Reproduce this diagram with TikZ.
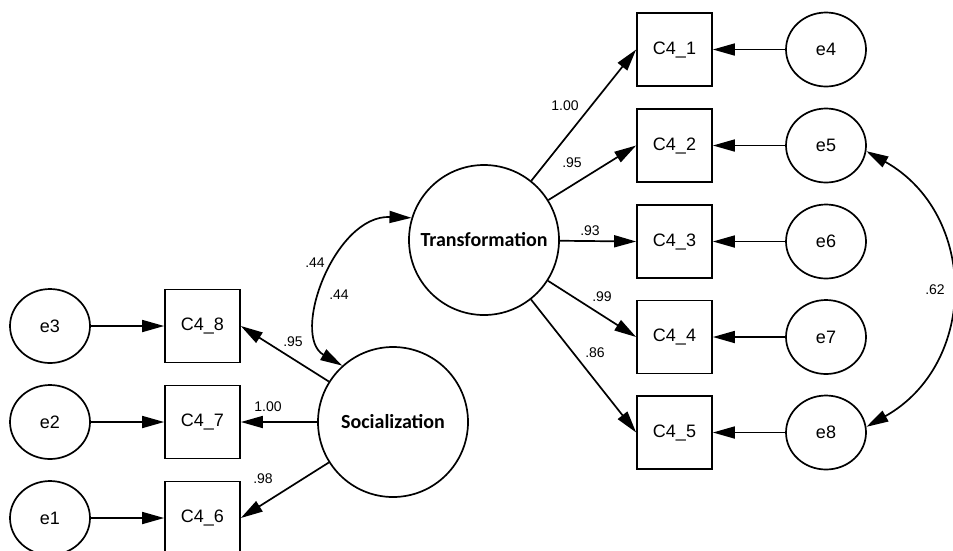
\documentclass[tikz,border=0pt]{standalone}
\usepackage{fontspec}
\setmainfont{Liberation Sans}
\newfontfamily\latentfont{Carlito}
\usetikzlibrary{arrows.meta,shapes.geometric,calc}

\begin{document}
\begin{tikzpicture}[x=1pt,y=-1pt,line width=1.7pt,
  obs/.style={draw, rectangle, minimum width=75pt, minimum height=73pt, inner sep=0pt,
              font=\fontsize{18}{18}\selectfont},
  err/.style={draw, ellipse, minimum width=80pt, minimum height=74pt, inner sep=0pt,
              font=\fontsize{18}{18}\selectfont},
  lat/.style={draw, circle, minimum size=150pt, inner sep=0pt,
              font=\latentfont\bfseries\fontsize{20}{20}\selectfont},
  link/.style={-{Triangle[length=22pt,width=12pt]}},
  cov/.style={{Triangle[length=22pt,width=12pt]}-{Triangle[length=22pt,width=12pt]}},
  coef/.style={inner sep=0pt, font=\fontsize{14}{14}\selectfont}]
\useasboundingbox (0,0) rectangle (953,550);

% latent factors
\node[lat] (T) at (484,240) {Transformation};
\node[lat] (S) at (393,422) {Socialization};

% indicators of Transformation and their errors
\node[obs] (C41) at (674.5,49.5)  {C4\_1};
\node[obs] (C42) at (674.5,145.5) {C4\_2};
\node[obs] (C43) at (674.5,241.5) {C4\_3};
\node[obs] (C44) at (674.5,337)   {C4\_4};
\node[obs] (C45) at (674.5,432.5) {C4\_5};
\node[err] (e4) at (826,49.5)  {e4};
\node[err] (e5) at (826,145.5) {e5};
\node[err] (e6) at (826,241.5) {e6};
\node[err] (e7) at (826,337)   {e7};
\node[err] (e8) at (826,432.5) {e8};

% indicators of Socialization and their errors
\node[obs] (C48) at (202.5,326) {C4\_8};
\node[obs] (C47) at (202.5,422) {C4\_7};
\node[obs] (C46) at (202.5,518) {C4\_6};
\node[err] (e3) at (50,326) {e3};
\node[err] (e2) at (50,422) {e2};
\node[err] (e1) at (50,518) {e1};

% loadings
\draw[link] (T) -- (C41.west);
\draw[link] (T) -- (C42.west);
\draw[link] (T) -- (C43.west);
\draw[link] (T) -- (C44.west);
\draw[link] (T) -- (C45.west);
\draw[link] (S) -- (C48.east);
\draw[link] (S) -- (C47.east);
\draw[link] (S) -- (C46.east);

% error terms
\draw[link] (e4) -- (C41);
\draw[link] (e5) -- (C42);
\draw[link] (e6) -- (C43);
\draw[link] (e7) -- (C44);
\draw[link] (e8) -- (C45);
\draw[link] (e3) -- (C48);
\draw[link] (e2) -- (C47);
\draw[link] (e1) -- (C46);

% covariances
\draw[cov] (T.163) .. controls ($(T.163)+(-77,-3)$) and ($(S.132)+(-52,-30)$) .. (S.132);
\draw[cov] (e5.-8) .. controls ($(e5.-8)+(112,63)$) and ($(e8.8)+(112,-63)$) .. (e8.8);

% coefficients
\node[coef] (k1) at (565,106) {1.00};
\node[coef] (k2) at (572,163) {.95};
\node[coef] (k3) at (590,231) {.93};
\node[coef] (k4) at (602,297) {.99};
\node[coef] (k5) at (595,353) {.86};
\node[coef] (k8) at (293,342) {.95};
\node[coef] (k7) at (268,407) {1.00};
\node[coef] (k6) at (263,479) {.98};
\node[coef] (r1) at (315,263) {.44};
\node[coef] (r2) at (339,295) {.44};
\node[coef] (r3) at (935,290) {.62};
\end{tikzpicture}
\end{document}
